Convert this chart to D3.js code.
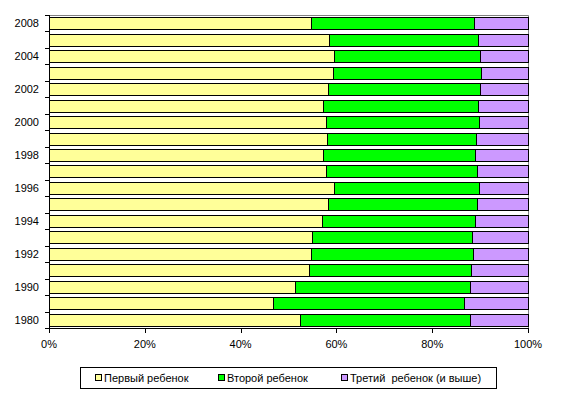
<!DOCTYPE html>
<html><head><meta charset="utf-8">
<script src="https://cdn.jsdelivr.net/npm/d3@7"></script>
<style>body{margin:0;background:#fff}svg{display:block}text{font-family:"Liberation Sans",Arial,sans-serif;font-size:11px;fill:#000}</style>
</head><body>
<script>
const years = ["1980","1989","1990","1991","1992","1993","1994","1995","1996","1997","1998","1999","2000","2001","2002","2003","2004","2006","2008"];
const labeledYears = ["1980","1990","1992","1994","1996","1998","2000","2002","2004","2008"];
// shares (percent)
const first  = [52.5,46.7,51.3,54.2,54.6,55.0,56.9,58.2,59.6,57.8,57.3,58.0,57.8,57.3,58.2,59.2,59.4,58.4,54.8];
const second = [35.4,39.9,36.6,33.9,33.9,33.3,32.0,31.2,30.2,31.6,31.6,31.1,32.0,32.3,31.7,31.0,30.5,31.1,33.9];
const third  = [12.1,13.4,12.1,11.9,11.5,11.7,11.1,10.6,10.2,10.6,11.1,10.9,10.2,10.4,10.1,9.8,10.1,10.5,11.3];
const seriesNames = ["Первый ребенок","Второй ребенок","Третий  ребенок (и выше)"];
const colors = ["#FFFF99","#00FF00","#CC99FF"];
const xTicks = [0,20,40,60,80,100];

const W=564,H=394;
const svg=d3.select("body").append("svg").attr("width",W).attr("height",H);
const m={l:49,r:528,t:15,b:328};
const x=d3.scaleLinear().domain([0,100]).range([m.l,m.r]);
const y=d3.scaleBand().domain(years.slice().reverse()).range([m.t,m.b]).paddingInner(0.27).paddingOuter(0.135);

const rows=years.map((yr,i)=>({year:yr,v:[first[i],second[i],third[i]]}));
const stack=d3.stack().keys([0,1,2]).value((d,k)=>d.v[k]).offset(d3.stackOffsetExpand);
const layers=stack(rows);

svg.append("path").attr("d",`M${m.l},${m.t+0.5}H${m.r+0.5}V${m.b}`).attr("fill","none").attr("stroke","#808080").attr("stroke-width",1);

layers.forEach((layer,k)=>{
  svg.append("g").selectAll("rect").data(layer).join("rect")
    .attr("x",d=>Math.round(x(d[0]*100))+0.5)
    .attr("y",d=>Math.round(y(d.data.year))+0.5)
    .attr("width",d=>Math.round(x(d[1]*100))-Math.round(x(d[0]*100)))
    .attr("height",Math.round(y.bandwidth()))
    .attr("fill",colors[k]).attr("stroke","#000").attr("stroke-width",1);
});

const gy=svg.append("g");
gy.append("line").attr("x1",m.l+0.5).attr("x2",m.l+0.5).attr("y1",m.t).attr("y2",m.b+4).attr("stroke","#000");
for(let i=0;i<=years.length;i++){
  const yy=Math.round(m.t+i*(m.b-m.t)/years.length)+0.5;
  gy.append("line").attr("x1",m.l-4).attr("x2",m.l).attr("y1",yy).attr("y2",yy).attr("stroke","#000");
}
gy.selectAll("text").data(labeledYears).join("text")
  .attr("x",39).attr("y",d=>y(d)+y.bandwidth()/2).attr("dy","0.35em").attr("text-anchor","end").text(d=>d);

const gx=svg.append("g");
gx.append("line").attr("x1",m.l).attr("x2",m.r+1).attr("y1",m.b+0.5).attr("y2",m.b+0.5).attr("stroke","#000");
gx.selectAll("line.t").data(xTicks).join("line").attr("class","t")
  .attr("x1",d=>Math.round(x(d))+0.5).attr("x2",d=>Math.round(x(d))+0.5).attr("y1",m.b).attr("y2",m.b+5).attr("stroke","#000");
gx.selectAll("text").data(xTicks).join("text")
  .attr("x",d=>x(d)).attr("y",348).attr("text-anchor","middle").text(d=>d+"%");

const lg=svg.append("g");
lg.append("rect").attr("x",80.5).attr("y",367.5).attr("width",416).attr("height",21).attr("fill","#fff").attr("stroke","#000");
const lx=[95,218,341];
seriesNames.forEach((n,k)=>{
  lg.append("rect").attr("x",lx[k]+0.5).attr("y",374.5).attr("width",6).attr("height",6).attr("fill",colors[k]).attr("stroke","#000");
  lg.append("text").attr("x",lx[k]+9).attr("y",378).attr("dy","0.35em").attr("xml:space","preserve").text(n);
});
</script>
</body></html>
